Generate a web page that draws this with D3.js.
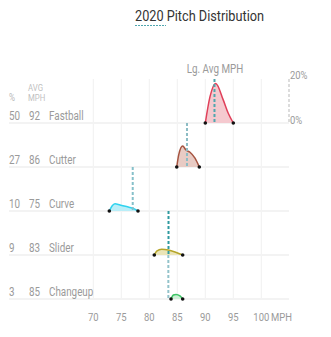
<!DOCTYPE html>
<html><head><meta charset="utf-8">
<script src="https://cdn.jsdelivr.net/npm/d3@7"></script>
<style>
body{margin:0;background:#fff;}
text{font-family:"Roboto",sans-serif;}
</style></head>
<body><svg id="c" width="331" height="337"></svg>
<script>
const pitches = ["Fastball","Cutter","Curve","Slider","Changeup"];
const usagePct = [50,27,10,9,3];
const avgMph = [92,86,75,83,85];
const lgAvgMph = [91.64,86.73,77.04,83.43,83.4];
const strokeColors = ["#e0405a","#a65440","#2fd3ef","#b5a52a","#3cc464"];
const fillColors = ["#f5c9cf","#e8cbc4","#b9eef8","#ebe5b7","#cdf0d6"];
const lgColors = ["#4fa6ae","#8cbcc4","#86c0ca","#2f9aa0","#93c3cb"];
const densMph = [
  [90,90.84,91.86,93.2,94.1,95],
  [84.9,85.25,85.96,86.55,87.27,88.16,88.93],
  [72.86,73.46,73.88,74.77,76.25,77.14,77.98],
  [80.89,81.32,82.21,83.39,84.59,85.96],
  [83.88,84.29,84.77,85.48,85.96]
];
const densPct = [
  [0,12,18,10.5,4.4,0],
  [0,5.5,9.5,7.7,6.7,4.0,0],
  [0,2.6,3.3,2.7,1.8,1.2,0],
  [0,1.8,2.6,2.3,1.4,0],
  [0,1.8,2.1,1.4,0]
];
const xTicks = [70,75,80,85,90,95,100];
const pctTicks = [0,20];

const svg = d3.select("#c");
const x = d3.scaleLinear().domain([70,100]).range([93.3,261.3]);
const rowBase = d3.scaleLinear().domain([0,4]).range([123,299]);
const h = d3.scaleLinear().domain([0,20]).range([0,44]);
const gray = "#9a9a9a";

// title
svg.append("text").attr("class","nar").attr("x",135).attr("y",21).attr("font-size",15.5).attr("fill","#333").text("2020 Pitch Distribution");
svg.append("line").attr("x1",135).attr("x2",166).attr("y1",25.5).attr("y2",25.5)
  .attr("stroke","#4fa6ae").attr("stroke-width",1).attr("stroke-dasharray","2,1");

// vertical grid
svg.append("g").selectAll("line").data(xTicks).join("line")
  .attr("x1",d=>x(d)).attr("x2",d=>x(d)).attr("y1",79).attr("y2",299)
  .attr("stroke","#f1f1f1").attr("stroke-width",1);

// baselines
svg.append("g").selectAll("line").data(pitches).join("line")
  .attr("x1",9).attr("x2",289).attr("y1",(d,i)=>rowBase(i)).attr("y2",(d,i)=>rowBase(i))
  .attr("stroke","#f3f3f3").attr("stroke-width",2);

// right pct axis
svg.append("line").attr("x1",289).attr("x2",289).attr("y1",rowBase(0)-h(20)).attr("y2",rowBase(0))
  .attr("stroke","#dcdcdc").attr("stroke-width",2).attr("stroke-dasharray","3,2");
svg.append("g").selectAll("text").data(pctTicks).join("text").attr("class","nar")
  .attr("x",290).attr("y",d=>rowBase(0)-h(d)+(d===0?1:0)).attr("font-size",11.5).attr("fill",gray)
  .text(d=>d+"%");

// headers
svg.append("text").attr("class","nar").attr("x",9).attr("y",101).attr("font-size",10).attr("fill","#b8b8b8").text("%");
svg.append("text").attr("class","nar").attr("x",28).attr("y",91).attr("font-size",9.5).attr("fill","#bfbfbf").text("AVG");
svg.append("text").attr("class","nar").attr("x",28).attr("y",101).attr("font-size",9.5).attr("fill","#bfbfbf").text("MPH");
svg.append("text").attr("class","nar").attr("x",215).attr("y",73).attr("text-anchor","middle").attr("font-size",12).attr("fill",gray).text("Lg. Avg MPH");

// row labels
const rows = svg.append("g").selectAll("g").data(pitches).join("g");
rows.append("text").attr("class","nar").attr("x",9).attr("y",(d,i)=>rowBase(i)-3).attr("font-size",12).attr("fill",gray).text((d,i)=>usagePct[i]);
rows.append("text").attr("class","nar").attr("x",29).attr("y",(d,i)=>rowBase(i)-3).attr("font-size",12).attr("fill",gray).text((d,i)=>avgMph[i]);
rows.append("text").attr("class","nar").attr("x",49).attr("y",(d,i)=>rowBase(i)-3).attr("font-size",12).attr("fill",gray).text(d=>d);

// densities
pitches.forEach((p,i)=>{
  const pts = densMph[i].map((m,j)=>[m,densPct[i][j]]);
  const b = rowBase(i);
  const area = d3.area().x(d=>x(d[0])).y0(b).y1(d=>b-h(d[1])).curve(d3.curveMonotoneX);
  const line = d3.line().x(d=>x(d[0])).y(d=>b-h(d[1])).curve(d3.curveMonotoneX);
  svg.append("path").attr("d",area(pts)).attr("fill",fillColors[i]);
  svg.append("path").attr("d",line(pts)).attr("fill","none").attr("stroke",strokeColors[i]).attr("stroke-width",1.5);
  svg.append("line").attr("x1",x(lgAvgMph[i])).attr("x2",x(lgAvgMph[i]))
    .attr("y1",b-h(20)).attr("y2",b).attr("stroke",lgColors[i]).attr("stroke-width",2).attr("stroke-dasharray","3,2");
  const ends = [pts[0],pts[pts.length-1]];
  svg.append("g").selectAll("circle").data(ends).join("circle")
    .attr("cx",d=>x(d[0])).attr("cy",b).attr("r",1.8).attr("fill","#111");
});

// x axis labels
svg.append("g").selectAll("text").data(xTicks).join("text").attr("class","nar")
  .attr("x",d=>x(d)).attr("y",321).attr("text-anchor","middle").attr("font-size",11.5).attr("fill",gray).text(d=>d);
svg.append("text").attr("class","nar").attr("x",271).attr("y",321).attr("font-size",11.5).attr("fill",gray).text("MPH");

// condense text to match narrow face
svg.selectAll("text.nar").each(function(){
  const w = this.getComputedTextLength();
  d3.select(this).attr("textLength", w*0.82).attr("lengthAdjust","spacingAndGlyphs");
});
</script></body></html>
